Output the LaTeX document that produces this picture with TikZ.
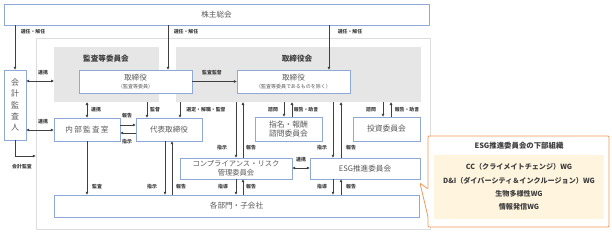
\documentclass[tikz,border=0pt]{standalone}
\usepackage{fontspec}
\setmainfont{Noto Sans CJK JP}
\usetikzlibrary{arrows.meta}
\definecolor{bx}{HTML}{8EA9D8}
\definecolor{gr}{HTML}{E7E6E6}
\definecolor{ct}{HTML}{DDDDDD}
\definecolor{tx}{HTML}{595959}
\definecolor{ln}{HTML}{3F3F3F}
\definecolor{org}{HTML}{EE9A5A}
\definecolor{cream}{HTML}{FFF4DE}
\tikzset{
 box/.style={draw=bx, line width=0.8pt, fill=white, inner sep=0pt, text=tx, font=\fontsize{7.6}{9}\selectfont, align=center},
 grayreg/.style={fill=gr, draw=none, inner sep=0pt},
 cont/.style={draw=ct, line width=0.8pt, inner sep=0pt},
 ttl/.style={font=\fontsize{7.6}{9}\selectfont\bfseries, text=ln, inner sep=0pt},
 lab/.style={font=\fontsize{4.9}{6}\selectfont\bfseries, text=ln, inner sep=0pt},
 arr/.style={draw=ln, line width=0.6pt, -{Triangle[length=2.8pt,width=2.6pt]}},
 darr/.style={draw=ln, line width=0.6pt, {Triangle[length=2.8pt,width=2.6pt]}-{Triangle[length=2.8pt,width=2.6pt]}},
 wg/.style={font=\fontsize{7.1}{8}\selectfont\bfseries, text=ln, inner sep=0pt},
}
\begin{document}
\begin{tikzpicture}[x=1pt,y=-1pt]
\useasboundingbox (0,0) rectangle (612,234);
% container and gray regions
\node[cont, minimum width=394pt, minimum height=191pt] (cont) at (233,133.5) {};
\node[grayreg, minimum width=105pt, minimum height=55pt] (gA) at (106.5,74.5) {};
\node[grayreg, minimum width=245pt, minimum height=55pt] (gB) at (298.5,74.5) {};
\node[ttl] (tA) at (106,59) {監査等委員会};
\node[ttl] (tB) at (297,59) {取締役会};
% boxes
\node[box, minimum width=425pt, minimum height=21pt] (sh) at (216.5,14.5) {株主総会};
\node[box, minimum width=113pt, minimum height=23pt] (dirA) at (135.5,81.5) {取締役\\[-1.5pt]{\fontsize{5}{6}\selectfont （監査等委員）}};
\node[box, minimum width=113pt, minimum height=23pt] (dirB) at (293.5,81.5) {取締役\\[-1.5pt]{\fontsize{5}{6}\selectfont （監査等委員であるものを除く）}};
\node[box, minimum width=22pt, minimum height=70pt, font=\fontsize{8}{11.3}\selectfont] (audit) at (15,105) {会\\計\\監\\査\\人};
\node[box, minimum width=66pt, minimum height=23pt] (naibu) at (87,129.5) {内\,部\,監\,査\,室};
\node[box, minimum width=66pt, minimum height=23pt] (daihyo) at (169,129.5) {代表取締役};
\node[box, minimum width=67pt, minimum height=24pt, font=\fontsize{7.8}{9.5}\selectfont] (shimei) at (288.5,129) {指名・報酬\\諮問委員会};
\node[box, minimum width=67pt, minimum height=24pt, font=\fontsize{7.8}{9.5}\selectfont] (toushi) at (386.5,129) {投資委員会};
\node[box, minimum width=112pt, minimum height=21pt, font=\fontsize{7.3}{9}\selectfont] (comp) at (236,168.5) {コンプライアンス・リスク\\管理委員会};
\node[box, minimum width=110pt, minimum height=21pt] (esg) at (365,168.5) {ESG推進委員会};
\node[box, minimum width=365pt, minimum height=22pt] (bumon) at (236.5,206) {各部門・子会社};
% helper coordinates
\foreach \xv in {15,87,147,165,168,172,180,236,243,284,292,329,333,341,383,391}
  \coordinate (c\xv) at (\xv,0);
\foreach \yv in {81,125,130,133,156,168}
  \coordinate (r\yv) at (0,\yv);
% connectors
\draw[arr] (sh.south -| c15) -- (audit.north);
\draw[arr] (sh.south -| c168) -- (dirA.north -| c168);
\draw[arr] (sh.south -| c329) -- (dirB.north -| c329);
\draw[darr] (audit.east |- r81) -- (gA.west |- r81);
\draw[darr] (audit.east |- r130) -- (naibu.west |- r130);
\draw[arr] (audit.south) -- (audit.south |- r156) -- (cont.west |- r156);
\draw[arr] (dirA.east) -- (dirB.west);
\draw[darr] (gA.south -| c87) -- (naibu.north);
\draw[arr] (gA.south -| c147) -- (daihyo.north -| c147);
\draw[arr] (gB.south -| c180) -- (daihyo.north -| c180);
\draw[arr] (naibu.east |- r125) -- (daihyo.west |- r125);
\draw[arr] (daihyo.west |- r133) -- (naibu.east |- r133);
\draw[arr] (naibu.south) -- (bumon.north -| naibu.south);
\draw[arr] (daihyo.south -| c165) -- (bumon.north -| c165);
\draw[arr] (bumon.north -| c172) -- (daihyo.south -| c172);
\draw[arr] (gB.south -| c236) -- (comp.north -| c236);
\draw[arr] (comp.north -| c243) -- (gB.south -| c243);
\draw[arr] (gB.south -| c284) -- (shimei.north -| c284);
\draw[arr] (shimei.north -| c292) -- (gB.south -| c292);
\draw[arr] (gB.south -| c383) -- (toushi.north -| c383);
\draw[arr] (toushi.north -| c391) -- (gB.south -| c391);
\draw[arr] (gB.south -| c333) -- (esg.north -| c333);
\draw[arr] (esg.north -| c341) -- (gB.south -| c341);
\draw[darr] (comp.east |- r168) -- (esg.west |- r168);
\draw[arr] (comp.south -| c236) -- (bumon.north -| c236);
\draw[arr] (bumon.north -| c243) -- (comp.south -| c243);
\draw[arr] (esg.south -| c333) -- (bumon.north -| c333);
\draw[arr] (bumon.north -| c341) -- (esg.south -| c341);
% labels
\node[lab] (l1) at (33,32) {選任・解任};
\node[lab] (l2) at (186,32) {選任・解任};
\node[lab] (l3) at (350,32) {選任・解任};
\node[lab] (l4) at (43,73) {連携};
\node[lab] (l5) at (43,122) {連携};
\node[lab] (l6) at (22,167) {会計監査};
\node[lab] (l7) at (212,73) {監査監督};
\node[lab] (l8) at (96,110) {連携};
\node[lab] (l9) at (155,110) {監督};
\node[lab] (l10) at (206,110) {選定・解職・監督};
\node[lab] (l11) at (127,116) {報告};
\node[lab] (l12) at (127,142) {指示};
\node[lab] (l13) at (97,187) {監査};
\node[lab] (l14) at (152,187) {指示};
\node[lab] (l15) at (181,187) {報告};
\node[lab] (l16) at (222,148) {指示};
\node[lab] (l17) at (251,148) {報告};
\node[lab] (l18) at (273,110) {諮問};
\node[lab] (l19) at (306,110) {報告・助言};
\node[lab] (l20) at (371,110) {諮問};
\node[lab] (l21) at (407,110) {報告・助言};
\node[lab] (l22) at (322,148) {指示};
\node[lab] (l23) at (351,148) {報告};
\node[lab] (l24) at (301,160) {連携};
\node[lab] (l25) at (223,187) {指導};
\node[lab] (l26) at (251,187) {報告};
\node[lab] (l27) at (322,187) {指導};
\node[lab] (l28) at (351,187) {報告};
% callout
\draw[org, line width=0.8pt, fill=white, rounded corners=1pt] (428,136) -- (609,136) -- (609,227) -- (428,227) -- (428,217) -- (420,183) -- (428,189) -- cycle;
\node[fill=cream, inner sep=0pt, minimum width=170pt, minimum height=64pt] (inner) at (519,187) {};
\node[wg, font=\fontsize{7.4}{8}\selectfont\bfseries] (ct) at (519,146) {ESG推進委員会の下部組織};
\node[wg] (w1) at (519,167) {CC（クライメイトチェンジ）WG};
\node[wg] (w2) at (519,180.5) {D\&I（ダイバーシティ＆インクルージョン）WG};
\node[wg] (w3) at (519,193.5) {生物多様性WG};
\node[wg] (w4) at (519,207) {情報発信WG};
\end{tikzpicture}
\end{document}
